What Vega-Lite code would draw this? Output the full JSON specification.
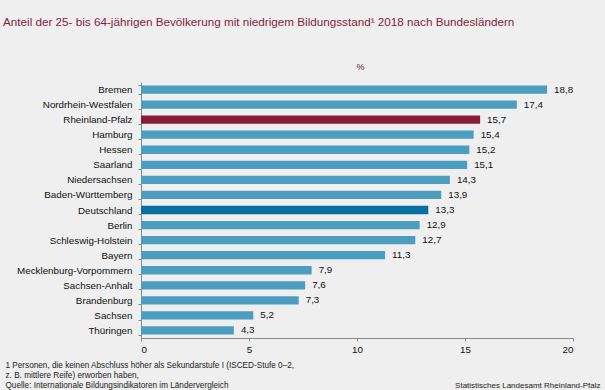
{
  "$schema": "https://vega.github.io/schema/vega-lite/v6.json",
  "width": 432,
  "height": 256,
  "autosize": {"type": "none"},
  "padding": {"left": 141, "top": 82, "right": 32, "bottom": 52},
  "background": "#eeefee",
  "config": {
    "view": {"stroke": null},
    "font": "Liberation Sans",
    "locale": {"number": {"decimal": ",", "thousands": ".", "grouping": [3], "currency": ["", " €"]}}
  },
  "title": {
    "text": "Anteil der 25- bis 64-jährigen Bevölkerung mit niedrigem Bildungsstand¹ 2018 nach Bundesländern",
    "anchor": "start",
    "frame": "group",
    "dx": -138,
    "offset": 33,
    "color": "#861d3e",
    "fontSize": 11.7,
    "fontWeight": "normal",
    "font": "Liberation Sans"
  },
  "data": {
    "values": [
      {"land": "Bremen", "wert": 18.8, "typ": "Land"},
      {"land": "Nordrhein-Westfalen", "wert": 17.4, "typ": "Land"},
      {"land": "Rheinland-Pfalz", "wert": 15.7, "typ": "RLP"},
      {"land": "Hamburg", "wert": 15.4, "typ": "Land"},
      {"land": "Hessen", "wert": 15.2, "typ": "Land"},
      {"land": "Saarland", "wert": 15.1, "typ": "Land"},
      {"land": "Niedersachsen", "wert": 14.3, "typ": "Land"},
      {"land": "Baden-Württemberg", "wert": 13.9, "typ": "Land"},
      {"land": "Deutschland", "wert": 13.3, "typ": "DE"},
      {"land": "Berlin", "wert": 12.9, "typ": "Land"},
      {"land": "Schleswig-Holstein", "wert": 12.7, "typ": "Land"},
      {"land": "Bayern", "wert": 11.3, "typ": "Land"},
      {"land": "Mecklenburg-Vorpommern", "wert": 7.9, "typ": "Land"},
      {"land": "Sachsen-Anhalt", "wert": 7.6, "typ": "Land"},
      {"land": "Brandenburg", "wert": 7.3, "typ": "Land"},
      {"land": "Sachsen", "wert": 5.2, "typ": "Land"},
      {"land": "Thüringen", "wert": 4.3, "typ": "Land"}
    ]
  },
  "encoding": {
    "y": {
      "field": "land",
      "type": "nominal",
      "sort": null,
      "scale": {"paddingInner": 0.45, "paddingOuter": 0.225},
      "axis": {
        "tickBand": "extent",
        "domainColor": "#8a8a8a",
        "tickColor": "#8a8a8a",
        "tickSize": 3,
        "labelPadding": 6,
        "labelFontSize": 9.8,
        "labelColor": "#111111",
        "labelFont": "Liberation Sans",
        "title": [
          "1 Personen,  die keinen Abschluss höher als Sekundarstufe I (ISCED-Stufe  0–2,",
          "z. B. mittlere Reife) erworben  haben,",
          "Quelle: Internationale  Bildungsindikatoren  im Ländervergleich"
        ],
        "titleAngle": 0,
        "titleAlign": "left",
        "titleBaseline": "alphabetic",
        "titleX": -136,
        "titleY": 285,
        "titleLineHeight": 10,
        "titleFontSize": 8.2,
        "titleFontWeight": "normal",
        "titleColor": "#222222",
        "titleFont": "Liberation Sans"
      }
    }
  },
  "layer": [
    {
      "mark": {"type": "bar"},
      "encoding": {
        "x": {
          "field": "wert",
          "type": "quantitative",
          "scale": {"domain": [0, 20]},
          "axis": {
            "values": [0, 5, 10, 15, 20],
            "grid": false,
            "domainColor": "#8a8a8a",
            "tickColor": "#8a8a8a",
            "tickSize": 3,
            "labelPadding": 3,
            "labelFontSize": 9.8,
            "labelColor": "#111111",
            "labelFont": "Liberation Sans",
            "title": "Statistisches Landesamt Rheinland-Pfalz",
            "titleAlign": "right",
            "titleBaseline": "alphabetic",
            "titleX": 459,
            "titleY": 49,
            "titleFontSize": 8,
            "titleFontWeight": "normal",
            "titleColor": "#222222",
            "titleFont": "Liberation Sans"
          }
        },
        "color": {
          "field": "typ",
          "type": "nominal",
          "scale": {"domain": ["Land", "RLP", "DE"], "range": ["#4b9ec0", "#861d36", "#086fa1"]},
          "legend": null
        }
      }
    },
    {
      "mark": {"type": "text", "align": "left", "baseline": "middle", "dx": 7, "fontSize": 9.8, "color": "#111111", "font": "Liberation Sans"},
      "encoding": {
        "x": {
          "field": "wert",
          "type": "quantitative",
          "axis": {
            "orient": "top",
            "labels": false,
            "ticks": false,
            "domain": false,
            "grid": false,
            "title": "%",
            "titleX": 219,
            "titleY": -13,
            "titleAlign": "center",
            "titleBaseline": "alphabetic",
            "titleFontSize": 9,
            "titleFontWeight": "normal",
            "titleColor": "#5a2040",
            "titleFont": "Liberation Sans"
          }
        },
        "text": {"field": "wert", "type": "quantitative", "format": ".1f"}
      }
    }
  ],
  "resolve": {"axis": {"x": "independent"}}
}
